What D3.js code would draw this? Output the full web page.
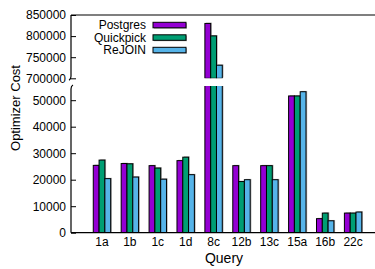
<!DOCTYPE html>
<html>
<head>
<meta charset="utf-8">
<script src="https://cdn.jsdelivr.net/npm/d3@7"></script>
<style>
  html, body { margin: 0; padding: 0; background: #fff; }
  svg { display: block; font-family: "Liberation Sans", Arial, Helvetica, sans-serif; }
</style>
</head>
<body>
<svg id="chart" width="375" height="269"></svg>
<script>
// ---- data ----
const categories = ["1a", "1b", "1c", "1d", "8c", "12b", "13c", "15a", "16b", "22c"];
const seriesNames = ["Postgres", "Quickpick", "ReJOIN"];
const postgres  = [25400, 26100, 25300, 27200, 830000, 25300, 25300, 51600, 5300, 7400];
const quickpick = [27400, 26000, 24400, 28500, 800500, 19300, 25300, 51600, 7400, 7400];
const rejoin    = [20400, 21000, 20200, 21900, 731000, 20000, 20000, 53200, 4500, 7800];
const lowTicks  = [0, 10000, 20000, 30000, 40000, 50000];
const highTicks = [700000, 750000, 800000, 850000];
const colors = ["#9400d3", "#009e73", "#56b4e9"];

const series = [postgres, quickpick, rejoin];

// ---- layout ----
const svg = d3.select("#chart");
const pL = 71, pR = 375, pT = 15, pB = 232.7;
const lowTop = 86, highBottom = 78.3;

const x = d3.scaleLinear().domain([-1.11, 9.785]).range([pL, pR]);
const yLow = d3.scaleLinear().domain([0, 50000]).range([pB, 100.2]);
const yHigh = d3.scaleLinear().domain([700000, 850000]).range([highBottom, pT]);
const barW = 5.8;

// clip paths
const defs = svg.append("defs");
defs.append("clipPath").attr("id", "clipLow").append("rect")
  .attr("x", pL).attr("y", lowTop).attr("width", pR - pL).attr("height", pB - lowTop);
defs.append("clipPath").attr("id", "clipHigh").append("rect")
  .attr("x", pL).attr("y", pT).attr("width", pR - pL).attr("height", highBottom - pT);

const flat = [];
categories.forEach((c, i) => series.forEach((s, j) => flat.push({ i, j, v: s[i] })));

// lower segment bars
const gLow = svg.append("g").attr("clip-path", "url(#clipLow)");
gLow.selectAll("rect.sh").data(flat).join("rect").attr("class", "sh")
  .attr("x", d => x(d.i) + (d.j - 1.5) * barW + 1.2)
  .attr("y", d => yLow(d.v) - 0.8)
  .attr("width", barW).attr("height", d => pB - yLow(d.v))
  .attr("fill", "#aaa");
gLow.selectAll("rect.bar").data(flat).join("rect").attr("class", "bar")
  .attr("x", d => x(d.i) + (d.j - 1.5) * barW)
  .attr("y", d => yLow(d.v))
  .attr("width", barW).attr("height", d => pB - yLow(d.v))
  .attr("fill", d => colors[d.j]).attr("stroke", "#000").attr("stroke-width", 1);

// upper segment bars
const highData = flat.filter(d => d.v > 700000);
const gHigh = svg.append("g").attr("clip-path", "url(#clipHigh)");
gHigh.selectAll("rect.sh").data(highData).join("rect").attr("class", "sh")
  .attr("x", d => x(d.i) + (d.j - 1.5) * barW + 1.2)
  .attr("y", d => yHigh(d.v) - 0.8)
  .attr("width", barW).attr("height", d => highBottom - yHigh(d.v))
  .attr("fill", "#aaa");
gHigh.selectAll("rect.bar").data(highData).join("rect").attr("class", "bar")
  .attr("x", d => x(d.i) + (d.j - 1.5) * barW)
  .attr("y", d => yHigh(d.v))
  .attr("width", barW).attr("height", d => highBottom - yHigh(d.v))
  .attr("fill", d => colors[d.j]).attr("stroke", "#000").attr("stroke-width", 1);

// axes
const fmt = d3.format("d");
const axLow = svg.append("g").attr("transform", `translate(${pL},0)`)
  .call(d3.axisLeft(yLow).tickValues(lowTicks).tickFormat(fmt).tickSizeInner(-5).tickSizeOuter(0).tickPadding(5));
const axHigh = svg.append("g").attr("transform", `translate(${pL},0)`)
  .call(d3.axisLeft(yHigh).tickValues(highTicks).tickFormat(fmt).tickSizeInner(-5).tickSizeOuter(0).tickPadding(5));
[axLow, axHigh].forEach(a => {
  a.select(".domain").remove();
  a.selectAll("text").attr("font-size", 12).attr("fill", "#000")
    .attr("font-family", "'Liberation Sans', Arial, sans-serif");
  a.selectAll("line").attr("stroke", "#000");
});

// y axis lines with break marks
svg.append("path")
  .attr("d", `M${pL},${pT} L${pL},${highBottom - 2} Q${pL},${highBottom + 1} ${pL - 2},${highBottom + 2}`)
  .attr("fill", "none").attr("stroke", "#000").attr("stroke-width", 1.2);
svg.append("path")
  .attr("d", `M${pL + 2},${lowTop - 1} Q${pL},${lowTop} ${pL},${lowTop + 3} L${pL},${pB}`)
  .attr("fill", "none").attr("stroke", "#000").attr("stroke-width", 1.2);

// top and bottom borders
svg.append("line").attr("x1", pL).attr("x2", pR).attr("y1", pT).attr("y2", pT)
  .attr("stroke", "#000").attr("stroke-width", 1.2);
svg.append("line").attr("x1", pL).attr("x2", pR).attr("y1", pB).attr("y2", pB)
  .attr("stroke", "#000").attr("stroke-width", 1.2);

// x tick labels
svg.append("g").selectAll("text").data(categories).join("text")
  .attr("x", (d, i) => x(i)).attr("y", pB + 13)
  .attr("text-anchor", "middle").attr("font-size", 12).text(d => d);

// axis titles
svg.append("text").attr("x", 224).attr("y", 263).attr("text-anchor", "middle")
  .attr("font-size", 14).text("Query");
svg.append("text").attr("transform", "translate(19.5,108) rotate(-90)")
  .attr("text-anchor", "middle").attr("font-size", 13).text("Optimizer Cost");

// legend
const leg = svg.append("g");
seriesNames.forEach((n, j) => {
  const cy = 25 + j * 12.5;
  leg.append("text").attr("x", 146).attr("y", cy + 4.3).attr("text-anchor", "end")
    .attr("font-size", 12).text(n);
  leg.append("rect").attr("x", 154).attr("y", cy - 1.8).attr("width", 33).attr("height", 5.5).attr("fill", "#aaa");
  leg.append("rect").attr("x", 153).attr("y", cy - 2.7).attr("width", 33).attr("height", 5.5)
    .attr("fill", colors[j]).attr("stroke", "#000").attr("stroke-width", 1);
});
</script>
</body>
</html>
